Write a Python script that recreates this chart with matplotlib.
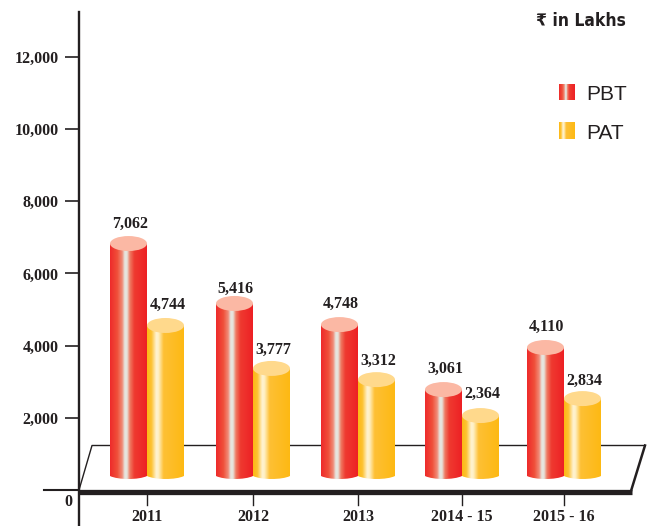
import numpy as np
import matplotlib
matplotlib.use("Agg")
import matplotlib.pyplot as plt
from matplotlib.colors import LinearSegmentedColormap
from matplotlib.patches import Ellipse, PathPatch
from matplotlib.path import Path
from matplotlib.transforms import Affine2D

# ---- data ----
categories = ["2011", "2012", "2013", "2014 - 15", "2015 - 16"]
pbt_labels = [7062, 5416, 4748, 3061, 4110]
pat_labels = [4744, 3777, 3312, 2364, 2834]
pbt_tops = [7035, 5375, 4790, 2990, 4155]
pat_tops = [4765, 3575, 3265, 2270, 2740]
y_ticks = [2000, 4000, 6000, 8000, 10000, 12000]

# ---- layout ----
W, H = 655, 526
group_x = [147, 253, 358, 462, 564]
bar_w = 37
pbt_gap = [12, 7, 13, 13, 13]
pat_gap = [13, 11, 11, 14, 10]
px_per_unit = 0.0361
ink = "#231F20"
serif = {"family": "Liberation Serif", "weight": "bold", "color": ink, "fontsize": 11.5}

fig = plt.figure(figsize=(W / 100, H / 100), dpi=100, facecolor="white")
px = Affine2D().scale(1 / W, -1 / H).translate(0, 1) + fig.transFigure

ax = fig.add_axes([79 / W, 0, (W - 79) / W, 1 - 12 / H])
ax.patch.set_alpha(0)
for s in ("top", "right", "bottom"):
    ax.spines[s].set_visible(False)
ax.spines["left"].set_linewidth(1.7)
ax.spines["left"].set_color(ink)
ax.set_yticks(y_ticks)
ax.set_yticklabels([f"{v:,}" for v in y_ticks], **serif)
ax.tick_params(axis="y", length=10, width=1.2, color=ink, pad=4.5)
ax.set_xticks([])

# platform
ax.plot([79, 92, 645], [490, 445.5, 445.5], transform=px, color=ink, lw=1.0, zorder=1, clip_on=False)
ax.plot([645, 631], [445.5, 491], transform=px, color=ink, lw=1.8, zorder=1, clip_on=False)
ax.plot([44, 79], [490, 490], transform=px, color=ink, lw=1.5, zorder=5, clip_on=False)
ax.plot([79, 632], [492, 492], transform=px, color=ink, lw=3.8, solid_capstyle="butt", zorder=5, clip_on=False)

red = LinearSegmentedColormap.from_list("red", [
    (0, "#EE2A2A"), (0.2, "#F0503A"), (0.33, "#F08C78"), (0.40, "#E6E6E0"), (0.46, "#E6E4DC"),
    (0.54, "#EF7A62"), (0.66, "#EF3A30"), (1, "#ED2024")])
amber = LinearSegmentedColormap.from_list("amber", [
    (0, "#FDB813"), (0.12, "#FDC232"), (0.25, "#FFF3D2"), (0.31, "#FFF0C4"),
    (0.45, "#FEC035"), (1, "#FDB913")])
grad = np.linspace(0, 1, 256)[None, :]


def cylinder(left, top, cmap, cap):
    ell = 15 / px_per_unit
    edge = 14 / px_per_unit      # corner height above the zero line
    ctrl = 10 / px_per_unit      # bezier control height, lowest point about 11 px
    right = left + bar_w
    cy = top - ell / 2
    verts = [(left, edge), (left, cy), (right, cy), (right, edge),
             (right - bar_w * 0.22, ctrl), (left + bar_w * 0.22, ctrl), (left, edge)]
    codes = [Path.MOVETO, Path.LINETO, Path.LINETO, Path.LINETO,
             Path.CURVE4, Path.CURVE4, Path.CURVE4]
    clip = PathPatch(Path(verts, codes), transform=ax.transData, fc="none", ec="none")
    ax.add_patch(clip)
    im = ax.imshow(grad, cmap=cmap, extent=(left, right, ctrl, cy),
                   aspect="auto", zorder=3, interpolation="bilinear")
    im.set_clip_path(clip)
    ax.add_patch(Ellipse((left + bar_w / 2, cy), bar_w, ell, fc=cap, ec="none", zorder=4))


for x, a, b, ga, gb, la, lb in zip(group_x, pbt_tops, pat_tops, pbt_gap, pat_gap, pbt_labels, pat_labels):
    cylinder(x - bar_w, a, red, "#FBB8A4")
    cylinder(x, b, amber, "#FFD98C")
    ax.annotate(f"{la:,}", (x - bar_w / 2, a), xytext=(1, ga * 0.72), textcoords="offset points",
                ha="center", va="center", zorder=6, **serif)
    ax.annotate(f"{lb:,}", (x + bar_w / 2, b), xytext=(1.5, gb * 0.72), textcoords="offset points",
                ha="center", va="center", zorder=6, **serif)
    ax.plot([x, x], [495, 505], transform=px, color=ink, lw=1.0, zorder=5, clip_on=False)

for x, c in zip(group_x, categories):
    ax.text(x, 517, c, transform=px, ha="center", va="center", clip_on=False, **serif)
ax.text(68, 502, "0", transform=px, ha="center", va="center", **serif)

# legend
for y, cmap, name in ((84, red, "PBT"), (123, amber, "PAT")):
    ax.imshow(grad, cmap=cmap, extent=(559, 575, (490 - y - 16) / px_per_unit, (490 - y) / px_per_unit),
              aspect="auto", zorder=3)
    ax.text(586, y + 16, name, transform=px, ha="left", va="baseline",
            family="Liberation Sans", fontsize=15, color=ink)

ax.set_xlim(79, W)
ax.set_ylim(-36 / px_per_unit, (490 - 12) / px_per_unit)

fig.text(626 / W, 1 - 21 / H, "₹ in Lakhs", ha="right", va="center",
         family="DejaVu Sans", stretch="condensed", weight="bold", fontsize=12.5, color=ink)

fig.savefig("out.png", dpi=100)
